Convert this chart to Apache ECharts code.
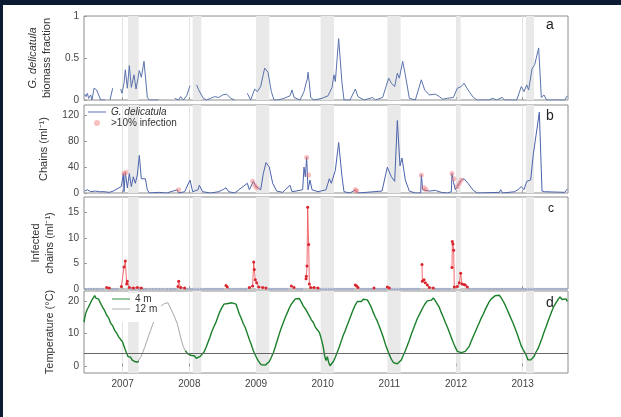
<!DOCTYPE html>
<html><head><meta charset="utf-8">
<script src="https://cdn.jsdelivr.net/npm/echarts@6/dist/echarts.min.js"></script>
<style>html,body{margin:0;padding:0;background:#fff}#c{width:621px;height:417px}</style>
</head><body><div id="c"></div>
<script>
const yearTicks = [2007, 2008, 2009, 2010, 2011, 2012, 2013];
const winterBands = [[2007.08,2007.24],[2008.05,2008.18],[2009.0,2009.2],[2009.97,2010.17],[2010.97,2011.17],[2012.01,2012.07],[2013.05,2013.17]];
const tempThreshold = 4;

// a: G. delicatula biomass fraction
const biomassFraction = [[2006.43,0.07],[2006.45,0.04],[2006.47,0.08],[2006.49,0.02],[2006.52,0.06],[2006.54,0.0],[2006.57,0.14],[2006.61,0.12],[2006.64,0.1],[2006.67,0.0],[2006.74,0.0],[2006.78,'-'],[2006.81,0.0],[2006.83,0.02],[2006.85,0.14],[2006.9,'-'],[2006.97,0.13],[2006.99,0.08],[2007.02,0.2],[2007.04,0.36],[2007.07,0.14],[2007.10,0.41],[2007.13,0.15],[2007.17,0.3],[2007.20,0.13],[2007.25,0.35],[2007.28,0.27],[2007.32,0.46],[2007.37,0.03],[2007.40,0.0],[2007.54,0.0],[2007.6,'-'],[2007.78,0.02],[2007.84,0.0],[2007.87,0.04],[2007.91,0.0],[2007.96,0.05],[2008.01,0.17],[2008.05,'-'],[2008.11,0.18],[2008.14,0.12],[2008.17,0.1],[2008.21,0.02],[2008.26,0.0],[2008.32,0.02],[2008.38,0.04],[2008.44,0.03],[2008.50,0.06],[2008.56,0.07],[2008.62,0.02],[2008.68,0.0],[2008.75,'-'],[2008.87,0.08],[2008.92,0.0],[2008.98,0.13],[2009.02,0.1],[2009.07,0.16],[2009.13,0.38],[2009.18,0.33],[2009.23,0.1],[2009.27,0.0],[2009.33,0.0],[2009.42,0.02],[2009.51,0.05],[2009.54,0.12],[2009.57,0.03],[2009.66,0.0],[2009.72,0.1],[2009.75,0.2],[2009.77,0.25],[2009.78,0.33],[2009.80,0.2],[2009.82,0.03],[2009.87,0.0],[2009.99,0.02],[2010.08,0.05],[2010.14,0.15],[2010.17,0.3],[2010.19,0.22],[2010.24,0.73],[2010.29,0.2],[2010.32,0.0],[2010.41,0.0],[2010.49,0.13],[2010.53,0.04],[2010.62,0.0],[2010.75,0.03],[2010.79,0.0],[2010.90,0.03],[2010.99,0.26],[2011.03,0.2],[2011.08,0.16],[2011.12,0.32],[2011.15,0.26],[2011.20,0.46],[2011.24,0.3],[2011.30,0.02],[2011.39,0.0],[2011.48,0.24],[2011.53,0.12],[2011.60,0.06],[2011.69,0.07],[2011.75,0.04],[2011.80,0.01],[2011.87,0.02],[2011.96,0.03],[2012.02,0.14],[2012.08,0.16],[2012.12,0.2],[2012.18,0.12],[2012.26,0.03],[2012.32,0.0],[2012.49,0.0],[2012.55,0.02],[2012.61,0.0],[2012.69,0.03],[2012.73,0.0],[2012.91,0.0],[2012.98,0.16],[2013.02,0.1],[2013.06,0.18],[2013.09,0.12],[2013.14,0.37],[2013.18,0.42],[2013.24,0.62],[2013.28,0.03],[2013.32,0.06],[2013.36,0.0],[2013.63,0.0],[2013.67,0.05]];

// b: chains per ml
const chains = [[2006.43,3],[2006.47,5],[2006.52,2],[2006.59,3],[2006.65,2],[2006.72,2],[2006.80,1],[2006.86,3],[2006.98,10],[2007.01,30],[2007.02,2],[2007.04,32],[2007.07,8],[2007.10,30],[2007.13,10],[2007.16,25],[2007.19,15],[2007.22,28],[2007.25,58],[2007.28,22],[2007.31,20],[2007.34,22],[2007.37,5],[2007.40,0],[2007.54,1],[2007.66,0],[2007.82,5],[2007.84,0],[2007.93,2],[2008.01,20],[2008.05,2],[2008.13,5],[2008.15,12],[2008.20,2],[2008.32,0],[2008.44,2],[2008.50,5],[2008.55,8],[2008.59,2],[2008.68,0],[2008.87,15],[2008.90,5],[2008.96,18],[2009.00,10],[2009.07,5],[2009.11,30],[2009.15,47],[2009.20,40],[2009.25,15],[2009.31,3],[2009.40,1],[2009.51,12],[2009.54,2],[2009.60,3],[2009.70,5],[2009.72,40],[2009.74,25],[2009.76,55],[2009.78,5],[2009.81,20],[2009.84,5],[2009.93,2],[2010.05,5],[2010.10,22],[2010.13,15],[2010.16,18],[2010.19,35],[2010.21,33],[2010.24,78],[2010.29,25],[2010.32,2],[2010.41,0],[2010.49,5],[2010.53,0],[2010.77,2],[2010.89,3],[2010.97,40],[2011.03,25],[2011.08,18],[2011.12,112],[2011.16,42],[2011.19,54],[2011.24,20],[2011.30,3],[2011.39,0],[2011.47,0],[2011.48,28],[2011.50,5],[2011.53,8],[2011.60,3],[2011.69,4],[2011.78,1],[2011.87,0],[2011.93,2],[2011.94,30],[2011.96,18],[2011.99,5],[2012.02,10],[2012.08,20],[2012.12,22],[2012.18,15],[2012.26,4],[2012.32,0],[2012.65,1],[2012.67,5],[2012.70,0],[2012.88,2],[2012.94,6],[2012.98,10],[2013.02,5],[2013.06,18],[2013.12,20],[2013.16,60],[2013.25,125],[2013.29,3],[2013.33,2],[2013.63,1],[2013.67,6]];
const infectedSamples = [[2007.02,30],[2007.05,32],[2007.84,5],[2008.95,18],[2008.98,12],[2009.01,8],[2009.76,55],[2009.79,28],[2010.49,5],[2010.51,3],[2011.48,28],[2011.52,8],[2011.55,5],[2011.94,30],[2011.97,22],[2012.02,10],[2012.05,15],[2012.08,20]];

// c: infected chains per ml
const infectedChains = [[2006.76,0.3],[2006.80,0.2],[2006.9,'-'],[2006.98,0.5],[2007.02,4.3],[2007.04,5.5],[2007.06,1.0],[2007.07,1.5],[2007.10,0.3],[2007.16,0.2],[2007.22,0.3],[2007.28,0.2],[2007.5,'-'],[2007.83,0.5],[2007.84,1.5],[2007.87,0.3],[2007.93,0.2],[2008.2,'-'],[2008.55,0.7],[2008.57,0.4],[2008.7,'-'],[2008.90,0.3],[2008.95,0.6],[2008.965,5.3],[2008.975,3.8],[2008.99,1.8],[2009.01,1.2],[2009.04,0.4],[2009.10,0.3],[2009.15,0.2],[2009.3,'-'],[2009.53,0.6],[2009.57,0.3],[2009.65,'-'],[2009.75,2.0],[2009.755,2.5],[2009.765,4.5],[2009.775,16],[2009.79,8.7],[2009.80,1.0],[2009.82,0.3],[2009.87,0.3],[2009.93,0.2],[2010.2,'-'],[2010.49,0.8],[2010.51,0.6],[2010.53,0.3],[2010.6,'-'],[2010.77,0.2],[2010.85,'-'],[2010.97,0.4],[2011.00,0.2],[2011.2,'-'],[2011.49,4.8],[2011.495,1.5],[2011.52,1.8],[2011.54,1.2],[2011.57,0.8],[2011.60,0.3],[2011.66,0.2],[2011.8,'-'],[2011.94,4.2],[2011.945,9.3],[2011.955,8.8],[2011.965,7.6],[2011.975,0.4],[2012.02,0.5],[2012.05,1.2],[2012.07,3.1],[2012.09,1.0],[2012.12,0.9],[2012.14,0.8],[2012.17,0.4]];
const zeroSampleDates = [2006.45,2006.49,2006.53,2006.57,2006.61,2006.65,2006.70,2006.84,2006.88,2006.92,2007.13,2007.19,2007.25,2007.31,2007.35,2007.40,2007.45,2007.50,2007.55,2007.60,2007.66,2007.71,2007.75,2007.79,2007.97,2008.01,2008.05,2008.09,2008.13,2008.17,2008.22,2008.26,2008.30,2008.34,2008.38,2008.42,2008.46,2008.50,2008.61,2008.65,2008.69,2008.73,2008.77,2008.81,2008.85,2009.19,2009.23,2009.27,2009.31,2009.35,2009.39,2009.43,2009.47,2009.61,2009.65,2009.69,2009.97,2010.01,2010.05,2010.09,2010.13,2010.17,2010.21,2010.25,2010.29,2010.33,2010.37,2010.41,2010.45,2010.57,2010.61,2010.65,2010.69,2010.73,2010.81,2010.85,2010.89,2010.93,2011.04,2011.08,2011.12,2011.16,2011.20,2011.24,2011.28,2011.32,2011.36,2011.40,2011.44,2011.70,2011.74,2011.78,2011.82,2011.86,2011.90,2012.21,2012.25,2012.29,2012.33,2012.37,2012.41,2012.45,2012.49,2012.53,2012.57,2012.61,2012.65,2012.69,2012.73,2012.77,2012.81,2012.85,2012.89,2012.93,2012.97,2013.01,2013.05,2013.09,2013.13,2013.17,2013.21,2013.25,2013.29,2013.33,2013.37,2013.41,2013.45,2013.49,2013.53,2013.57,2013.61,2013.65];

// d: temperature
const temp4m = [[2006.42,13.5],[2006.44,15.8],[2006.46,17.0],[2006.48,17.8],[2006.50,18.6],[2006.52,19.5],[2006.54,20.3],[2006.56,20.6],[2006.58,21.6],[2006.60,20.8],[2006.62,20.2],[2006.64,20.5],[2006.66,19.6],[2006.68,18.8],[2006.70,18.0],[2006.73,17.0],[2006.76,15.6],[2006.79,14.8],[2006.82,13.2],[2006.85,12.4],[2006.88,11.0],[2006.91,10.2],[2006.94,9.0],[2006.97,8.2],[2007.00,7.4],[2007.02,6.8],[2007.04,5.0],[2007.06,4.4],[2007.08,3.0],[2007.10,2.5],[2007.12,2.8],[2007.14,2.0],[2007.16,1.8],[2007.18,1.5],[2007.20,2.0],[2007.22,1.3],[2007.24,1.6],[2007.5,'-'],[2007.94,4.8],[2007.97,4.0],[2008.00,4.4],[2008.02,3.4],[2008.05,2.8],[2008.08,3.2],[2008.10,2.5],[2008.13,2.8],[2008.16,3.0],[2008.19,3.6],[2008.22,4.4],[2008.25,5.8],[2008.28,7.4],[2008.31,9.0],[2008.34,10.8],[2008.37,12.2],[2008.40,13.5],[2008.43,15.2],[2008.46,16.8],[2008.49,18.0],[2008.52,19.0],[2008.55,19.6],[2008.58,19.2],[2008.61,19.8],[2008.64,19.4],[2008.67,19.9],[2008.70,19.0],[2008.72,17.8],[2008.75,16.0],[2008.78,14.6],[2008.81,13.0],[2008.84,11.8],[2008.87,10.0],[2008.90,8.2],[2008.93,6.6],[2008.96,4.8],[2008.99,3.4],[2009.02,2.2],[2009.05,1.2],[2009.08,0.5],[2009.11,0.2],[2009.14,0.4],[2009.17,0.8],[2009.20,1.5],[2009.23,2.8],[2009.26,4.2],[2009.29,6.0],[2009.32,8.0],[2009.35,10.0],[2009.38,11.8],[2009.41,13.4],[2009.44,15.0],[2009.47,16.4],[2009.50,17.8],[2009.53,19.0],[2009.56,19.8],[2009.59,20.6],[2009.62,20.2],[2009.65,20.7],[2009.68,19.6],[2009.71,18.4],[2009.74,17.6],[2009.77,16.5],[2009.80,15.4],[2009.83,14.2],[2009.86,13.4],[2009.89,12.0],[2009.92,11.2],[2009.95,10.4],[2009.98,8.4],[2010.01,5.8],[2010.03,3.2],[2010.05,1.8],[2010.07,3.0],[2010.09,1.2],[2010.11,0.2],[2010.13,0.5],[2010.16,1.5],[2010.19,2.8],[2010.22,4.4],[2010.25,6.0],[2010.28,7.8],[2010.31,9.6],[2010.34,11.0],[2010.37,12.6],[2010.40,14.2],[2010.43,15.8],[2010.46,17.4],[2010.49,18.8],[2010.52,19.8],[2010.55,20.4],[2010.58,19.8],[2010.61,20.5],[2010.64,20.0],[2010.67,20.3],[2010.70,19.2],[2010.73,18.0],[2010.76,16.4],[2010.79,15.0],[2010.82,13.8],[2010.85,12.2],[2010.88,10.6],[2010.91,8.8],[2010.94,6.8],[2010.97,5.2],[2011.00,3.6],[2011.03,2.2],[2011.06,1.2],[2011.09,0.6],[2011.12,0.8],[2011.15,1.2],[2011.18,2.0],[2011.21,3.4],[2011.24,4.8],[2011.27,6.4],[2011.30,8.0],[2011.33,9.8],[2011.36,11.4],[2011.39,13.0],[2011.42,14.6],[2011.45,15.8],[2011.48,17.0],[2011.51,18.2],[2011.54,19.2],[2011.57,20.0],[2011.60,20.6],[2011.63,20.2],[2011.66,20.9],[2011.69,20.0],[2011.72,19.4],[2011.75,18.0],[2011.78,16.4],[2011.81,15.0],[2011.84,13.4],[2011.87,12.0],[2011.90,10.4],[2011.93,8.8],[2011.96,7.2],[2011.99,5.8],[2012.02,4.6],[2012.05,4.0],[2012.08,4.2],[2012.11,4.0],[2012.14,4.6],[2012.17,5.2],[2012.20,6.2],[2012.23,7.8],[2012.26,9.2],[2012.29,10.6],[2012.32,12.0],[2012.35,13.4],[2012.38,14.8],[2012.41,16.0],[2012.44,17.4],[2012.47,18.6],[2012.50,19.8],[2012.53,20.6],[2012.56,21.2],[2012.59,21.6],[2012.62,21.0],[2012.65,21.7],[2012.68,20.8],[2012.71,19.8],[2012.74,18.6],[2012.77,17.2],[2012.80,15.8],[2012.83,14.4],[2012.86,13.0],[2012.89,11.4],[2012.92,9.8],[2012.95,8.0],[2012.98,6.2],[2013.01,5.0],[2013.04,4.0],[2013.06,3.0],[2013.08,2.0],[2013.10,1.4],[2013.12,2.0],[2013.14,1.8],[2013.17,3.0],[2013.20,4.4],[2013.23,5.4],[2013.26,7.0],[2013.29,8.6],[2013.32,10.4],[2013.35,12.0],[2013.38,13.8],[2013.41,15.4],[2013.44,17.0],[2013.47,18.4],[2013.50,19.4],[2013.53,20.4],[2013.56,21.2],[2013.59,20.4],[2013.62,20.0],[2013.65,20.6],[2013.67,19.8]];
const temp12m = [[2007.14,2.0],[2007.18,1.5],[2007.22,1.3],[2007.24,1.6],[2007.27,2.8],[2007.30,4.2],[2007.33,5.8],[2007.36,7.6],[2007.39,9.4],[2007.42,11.0],[2007.45,12.8],[2007.48,14.3],[2007.51,15.8],[2007.54,17.2],[2007.57,18.4],[2007.60,19.0],[2007.63,19.2],[2007.66,18.6],[2007.68,19.4],[2007.70,19.0],[2007.72,17.6],[2007.75,16.4],[2007.78,15.0],[2007.82,13.0],[2007.85,10.5],[2007.88,8.0],[2007.91,6.0],[2007.94,4.8],[2007.97,4.0]];

const FONT = 'Liberation Sans, Arial, sans-serif';
const X_MIN = 2006.42, X_MAX = 2013.68;
const LINE_ICON = 'path://M0,0L40,0L40,2L0,2Z';
const gridsPos = [
  {top:16, height:84},{top:105, height:88},{top:197, height:92},{top:291, height:82}
];
const yDefs = [
  {min:0, max:1, ticks:[0,0.5,1], name:'{i|G. delicatula}\nbiomass fraction', gap:21},
  {min:0, max:136, ticks:[0,40,80,120], name:'Chains (ml⁻¹)', gap:25},
  {min:0, max:18, ticks:[0,5,10,15], name:'Infected\nchains (ml⁻¹)', gap:22},
  {min:-2, max:23, ticks:[0,10,20], name:'Temperature (°C)', gap:25}
];
const bandArea = {silent:true, itemStyle:{color:'#e9e9e9'}, data: winterBands.map(b=>[{xAxis:b[0]},{xAxis:b[1]}])};

const option = {
  backgroundColor:'#ffffff',
  animation:false,
  textStyle:{fontFamily:FONT},
  grid: gridsPos.map(g=>({left:84, width:484, top:g.top, height:g.height, show:true, borderColor:'#8c8c8c', borderWidth:1, backgroundColor:'#fff'})),
  xAxis: gridsPos.map((g,i)=>({
    type:'value', gridIndex:i, min:X_MIN, max:X_MAX,
    axisLine:{show:false},
    axisTick:{show:true, inside:true, length:3, lineStyle:{color:'#999'}, customValues:yearTicks},
    axisLabel:{show:i===3, customValues:yearTicks, fontSize:10, color:'#444', fontFamily:FONT, margin:6, formatter:v=>String(Math.round(v))},
    splitLine:{show:true, lineStyle:{color:'#e4e4e4', width:1}}
  })),
  yAxis: yDefs.map((d,i)=>({
    type:'value', gridIndex:i, min:d.min, max:d.max,
    name:d.name, nameLocation:'middle', nameRotate:90, nameGap:d.gap,
    nameTextStyle:{fontSize:11, color:'#333', fontFamily:FONT, lineHeight:14, rich:{i:{fontStyle:'italic', fontSize:11, color:'#333', fontFamily:FONT}}},
    axisLine:{show:false},
    axisTick:{show:true, inside:true, length:3, lineStyle:{color:'#999'}, customValues:d.ticks},
    axisLabel:{customValues:d.ticks, fontSize:10, color:'#444', fontFamily:FONT, margin:5},
    splitLine:{show:false}
  })),
  legend:[
    {left:86, top:106, orient:'vertical', itemGap:1, itemWidth:18, itemHeight:6, padding:[1,2],
     data:[{name:'G. delicatula', icon:LINE_ICON}, {name:'>10% infection', icon:'circle'}],
     textStyle:{fontSize:10, color:'#333', fontFamily:FONT, rich:{i:{fontStyle:'italic', fontSize:10, color:'#333', fontFamily:FONT}}},
     formatter:n=> n==='G. delicatula' ? '{i|G. delicatula}' : n},
    {left:110, top:293, orient:'vertical', itemGap:0, itemWidth:18, itemHeight:6, padding:[1,4,8,2], backgroundColor:'#fff',
     data:[{name:'4 m', icon:LINE_ICON},{name:'12 m', icon:LINE_ICON}], textStyle:{fontSize:10, color:'#333', fontFamily:FONT}}
  ],
  series:[
    {type:'line', name:'biomass', xAxisIndex:0, yAxisIndex:0, data:biomassFraction, showSymbol:false, symbol:'none', lineStyle:{color:'#5a72ad', width:1}, itemStyle:{color:'#5a72ad'}, markArea:bandArea, z:3},
    {type:'line', name:'G. delicatula', xAxisIndex:1, yAxisIndex:1, data:chains, showSymbol:false, symbol:'none', lineStyle:{color:'#4b63ad', width:1}, itemStyle:{color:'#4b63ad'}, markArea:bandArea, z:3},
    {type:'scatter', name:'>10% infection', xAxisIndex:1, yAxisIndex:1, data:infectedSamples, symbol:'circle', symbolSize:5, itemStyle:{color:'rgba(240,110,110,0.55)'}, z:4},
    {type:'scatter', name:'samples', xAxisIndex:2, yAxisIndex:2, data:zeroSampleDates.map(t=>[t,0]), symbolSize:2.5, itemStyle:{color:'#9aa8cc'}, markArea:bandArea, z:3},
    {type:'line', name:'infected', xAxisIndex:2, yAxisIndex:2, data:infectedChains, symbol:'circle', symbolSize:3, showSymbol:true, lineStyle:{color:'#ef5a60', width:0.9}, itemStyle:{color:'#d9252d'}, z:4},
    {type:'line', name:'12 m', xAxisIndex:3, yAxisIndex:3, data:temp12m, symbol:'none', lineStyle:{color:'#a5a5a5', width:1}, itemStyle:{color:'#a5a5a5'}, markArea:bandArea, z:3},
    {type:'line', name:'4 m', xAxisIndex:3, yAxisIndex:3, data:temp4m, symbol:'none', lineStyle:{color:'#1a7f2a', width:1.4}, itemStyle:{color:'#1a7f2a'}, z:4,
     markLine:{silent:true, symbol:'none', label:{show:false}, lineStyle:{color:'#666', width:1, type:'solid'}, data:[{yAxis:tempThreshold}]}}
  ],
  graphic:[
    {type:'rect', shape:{x:0,y:0,width:621,height:5}, style:{fill:'#0b1b31'}, z:100},
    {type:'rect', shape:{x:0,y:0,width:3,height:417}, style:{fill:'#0b1b31'}, z:100},
    {type:'text', left:546, top:18, style:{text:'a', fontSize:14, fontFamily:FONT, fill:'#222'}, z:100},
    {type:'text', left:546, top:109, style:{text:'b', fontSize:14, fontFamily:FONT, fill:'#222'}, z:100},
    {type:'text', left:548, top:203, style:{text:'c', fontSize:12, fontFamily:FONT, fill:'#222'}, z:100},
    {type:'text', left:546, top:296, style:{text:'d', fontSize:14, fontFamily:FONT, fill:'#222'}, z:100}
  ]
};
const chart = echarts.init(document.getElementById('c'), null, {renderer:'canvas'});
chart.setOption(option);
</script></body></html>
